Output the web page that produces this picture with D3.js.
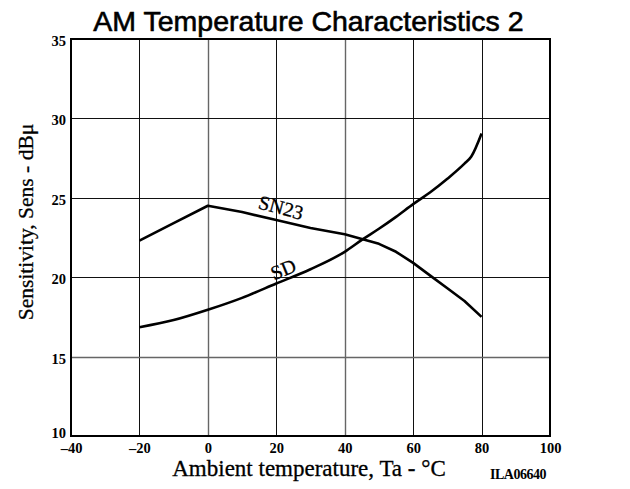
<!DOCTYPE html>
<html>
<head>
<meta charset="utf-8">
<script src="https://cdn.jsdelivr.net/npm/d3@7"></script>
<style>
  html, body { margin: 0; padding: 0; background: #fff; }
  svg { display: block; }
</style>
</head>
<body>
<svg id="chart" width="630" height="489"></svg>
<script>
// ---- data ----
const xTicks = [-40, -20, 0, 20, 40, 60, 80, 100];
const yTicks = [10, 15, 20, 25, 30, 35];

const sn23Temp = [-20, -10, 0, 10, 20, 30, 40, 45, 50, 55, 60, 65, 70, 75, 80];
const sn23Sens = [22.3, 23.4, 24.5, 24.1, 23.6, 23.1, 22.7, 22.4, 22.1, 21.6, 20.9, 20.1, 19.3, 18.5, 17.5];

const sdTemp = [-20, -10, 0, 10, 20, 30, 40, 45, 50, 55, 60, 65, 70, 75, 77, 80];
const sdSens = [16.85, 17.3, 17.95, 18.7, 19.6, 20.5, 21.6, 22.35, 23.05, 23.8, 24.6, 25.35, 26.2, 27.15, 27.6, 29.05];

const seriesLabels = [
  { text: "SN23", t: 21.4, v: 24.4, angle: 15 },
  { text: "SD",   t: 22.0, v: 20.5, angle: -22 }
];

const titleText = "AM Temperature Characteristics 2";
const xLabel = "Ambient temperature, Ta - °C";
const yLabel = "Sensitivity, Sens - dBμ";
const codeText = "ILA06640";

// ---- layout ----
const svg = d3.select("#chart");
const pL = 71, pR = 550, pT = 39, pB = 436;
const x = d3.scaleLinear().domain([-40, 100]).range([pL, pR]);
const y = d3.scaleLinear().domain([10, 35]).range([pB, pT]);

const serif = "'Liberation Serif', 'Times New Roman', serif";
const sans = "'Liberation Sans', Arial, sans-serif";
const fmt = d => d < 0 ? "\u2013" + Math.abs(d) : String(d);

// grid lines
const grayV = new Set([0, 40]);
const grayH = new Set([15]);
svg.append("g").selectAll("line")
  .data(xTicks.filter(d => d > -40 && d < 100))
  .join("line")
  .attr("x1", d => Math.round(x(d)) + 0.5).attr("x2", d => Math.round(x(d)) + 0.5)
  .attr("y1", pT).attr("y2", pB)
  .attr("stroke", d => grayV.has(d) ? "#666" : "#111")
  .attr("stroke-width", d => grayV.has(d) ? 1.4 : 1);
svg.append("g").selectAll("line")
  .data(yTicks.filter(d => d > 10 && d < 35))
  .join("line")
  .attr("y1", d => Math.round(y(d)) + 0.5).attr("y2", d => Math.round(y(d)) + 0.5)
  .attr("x1", pL).attr("x2", pR)
  .attr("stroke", d => grayH.has(d) ? "#666" : "#111")
  .attr("stroke-width", d => grayH.has(d) ? 1.4 : 1);

// frame
svg.append("rect")
  .attr("x", pL).attr("y", pT)
  .attr("width", pR - pL).attr("height", pB - pT)
  .attr("fill", "none").attr("stroke", "#000").attr("stroke-width", 2);

// axes (labels only)
const xAxis = svg.append("g")
  .attr("transform", `translate(0,${pB})`)
  .call(d3.axisBottom(x).tickValues(xTicks).tickFormat(fmt).tickSize(0).tickPadding(7));
const yAxis = svg.append("g")
  .attr("transform", `translate(${pL},0)`)
  .call(d3.axisLeft(y).tickValues(yTicks).tickFormat(fmt).tickSize(0).tickPadding(5));
[xAxis, yAxis].forEach(g => {
  g.select(".domain").remove();
  g.selectAll("text")
    .attr("font-family", serif).attr("font-weight", "bold")
    .attr("font-size", 14.5).attr("fill", "#000");
});
yAxis.selectAll("text").attr("dy", d => d === 10 ? "0.08em" : "0.45em");

// curves
const lineSN = d3.line().x(d => x(d[0])).y(d => y(d[1])).curve(d3.curveLinear);
const lineSD = d3.line().x(d => x(d[0])).y(d => y(d[1])).curve(d3.curveMonotoneX);
svg.append("path")
  .datum(sn23Temp.map((t, i) => [t, sn23Sens[i]]))
  .attr("d", lineSN).attr("fill", "none")
  .attr("stroke", "#000").attr("stroke-width", 2.6).attr("stroke-linejoin", "round");
svg.append("path")
  .datum(sdTemp.map((t, i) => [t, sdSens[i]]))
  .attr("d", lineSD).attr("fill", "none")
  .attr("stroke", "#000").attr("stroke-width", 2.6).attr("stroke-linejoin", "round");

// series labels
svg.append("g").selectAll("text")
  .data(seriesLabels)
  .join("text")
  .attr("transform", d => `translate(${x(d.t)},${y(d.v)}) rotate(${d.angle})`)
  .attr("text-anchor", "middle").attr("dy", "0.35em")
  .attr("font-family", serif).attr("font-size", 20).attr("fill", "#000")
  .attr("stroke", "#000").attr("stroke-width", 0.3)
  .text(d => d.text);

// title
svg.append("text")
  .attr("x", 308.5).attr("y", 31)
  .attr("text-anchor", "middle")
  .attr("font-family", sans).attr("font-size", 28.5).attr("fill", "#000")
  .attr("stroke", "#000").attr("stroke-width", 0.6)
  .text(titleText);

// axis titles
svg.append("text")
  .attr("x", 309).attr("y", 476)
  .attr("text-anchor", "middle")
  .attr("font-family", serif).attr("font-size", 23).attr("fill", "#000")
  .attr("stroke", "#000").attr("stroke-width", 0.3)
  .text(xLabel);
svg.append("text")
  .attr("transform", "translate(33,222) rotate(-90)")
  .attr("text-anchor", "middle")
  .attr("font-family", serif).attr("font-size", 21.5).attr("fill", "#000")
  .attr("stroke", "#000").attr("stroke-width", 0.3)
  .text(yLabel);

// figure code
svg.append("text")
  .attr("x", 518).attr("y", 479)
  .attr("text-anchor", "middle")
  .attr("font-family", serif).attr("font-weight", "bold")
  .attr("font-size", 14).attr("fill", "#000")
  .style("letter-spacing", "-0.5px")
  .text(codeText);
</script>
</body>
</html>
